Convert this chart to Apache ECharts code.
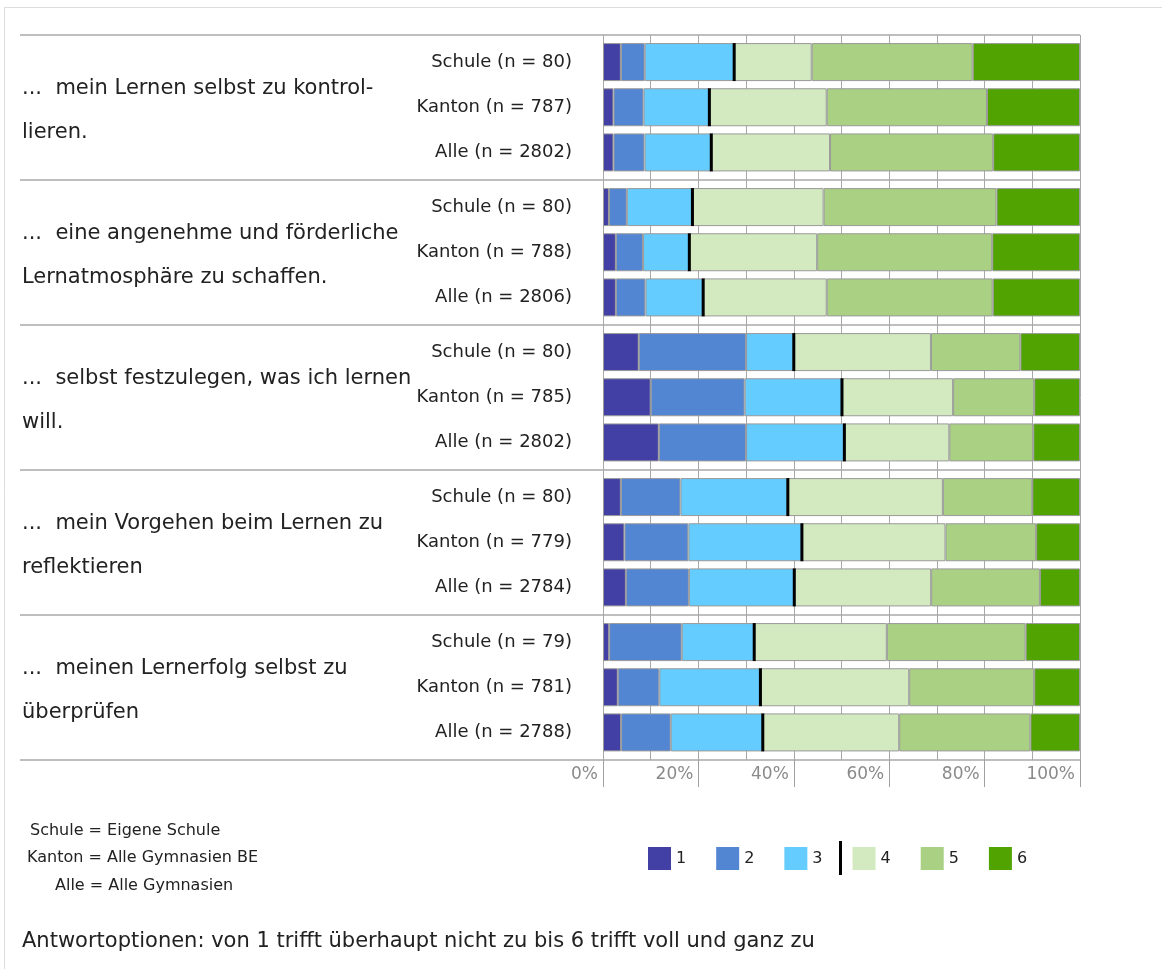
<!DOCTYPE html>
<html>
<head>
<meta charset="utf-8">
<script src="https://cdn.jsdelivr.net/npm/echarts@6/dist/echarts.min.js"></script>
<style>
  html, body { margin: 0; padding: 0; background: #fff; }
  #chart { width: 1162px; height: 969px; }
</style>
</head>
<body>
<div id="chart"></div>
<script>
// Statements, one per block of three bars
const groupLabels = [
  '...  mein Lernen selbst zu kontrol-\nlieren.',
  '...  eine angenehme und förderliche\nLernatmosphäre zu schaffen.',
  '...  selbst festzulegen, was ich lernen\nwill.',
  '...  mein Vorgehen beim Lernen zu\nreflektieren',
  '...  meinen Lernerfolg selbst zu\nüberprüfen'
];

// Bar labels, top to bottom
const rowLabels = [
  'Schule (n = 80)', 'Kanton (n = 787)', 'Alle (n = 2802)',
  'Schule (n = 80)', 'Kanton (n = 788)', 'Alle (n = 2806)',
  'Schule (n = 80)', 'Kanton (n = 785)', 'Alle (n = 2802)',
  'Schule (n = 80)', 'Kanton (n = 779)', 'Alle (n = 2784)',
  'Schule (n = 79)', 'Kanton (n = 781)', 'Alle (n = 2788)'
];

// Share of answers (%) per option, same row order as rowLabels
const answer1 = [3.75, 2.2, 2.2, 1.25, 2.7, 2.7, 7.5, 10.0, 11.7, 3.75, 4.5, 4.8, 1.3, 3.1, 3.8];
const answer2 = [5.0, 6.3, 6.5, 3.75, 5.7, 6.2, 22.5, 19.7, 18.3, 12.5, 13.4, 13.2, 15.2, 8.7, 10.4];
const answer3 = [18.75, 13.8, 14.0, 13.75, 9.7, 12.1, 10.0, 20.4, 20.6, 22.5, 23.8, 22.1, 15.2, 21.2, 19.3];
const answer4 = [16.25, 24.6, 24.9, 27.5, 26.8, 25.9, 28.75, 23.3, 22.0, 32.5, 30.1, 28.7, 27.8, 31.2, 28.6];
const answer5 = [33.75, 33.6, 34.2, 36.25, 36.7, 34.8, 18.75, 17.0, 17.6, 18.75, 19.0, 22.8, 29.1, 26.2, 27.5];
const answer6 = [22.5, 19.5, 18.2, 17.5, 18.4, 18.3, 12.5, 9.6, 9.8, 10.0, 9.2, 8.4, 11.4, 9.6, 10.4];

const optionNames = ['1', '2', '3', '4', '5', '6'];
const optionColors = ['#4340A5', '#5286D3', '#64CCFE', '#D3EAC1', '#A9D083', '#50A300'];

const answers = [answer1, answer2, answer3, answer4, answer5, answer6];

// Layout
const FONT = '"DejaVu Sans", "Noto Sans", sans-serif';
const PLOT_LEFT = 603, PLOT_RIGHT = 82;
const BLOCK_TOP = 35, BLOCK_H = 145, BLOCK_PAD = 4.5;
const BAR_W = 38;
const nGroups = groupLabels.length;
const PLOT_BOTTOM = 969 - (BLOCK_TOP + BLOCK_H * nGroups);

const grid = [{ left: PLOT_LEFT, right: PLOT_RIGHT, top: BLOCK_TOP, bottom: PLOT_BOTTOM }];
const xAxis = [{
  gridIndex: 0, type: 'value', min: 0, max: 100, interval: 20,
  axisLine: { show: false },
  axisTick: { show: true, length: 27, lineStyle: { color: '#a0a0a0', width: 1 } },
  minorTick: { show: false, splitNumber: 2 },
  splitLine: { show: true, lineStyle: { color: '#a8a8a8', width: 1 } },
  minorSplitLine: { show: true, lineStyle: { color: '#a8a8a8', width: 1 } },
  axisLabel: {
    formatter: '{value}%', align: 'right', margin: 6, padding: [0, 5, 0, 0],
    color: '#8a8a8a', fontSize: 17, fontFamily: FONT
  }
}];
const yAxis = [{ gridIndex: 0, type: 'value', show: false }];
const series = [];

for (let g = 0; g < nGroups; g++) {
  const gi = g + 1;
  const top = BLOCK_TOP + BLOCK_H * g + BLOCK_PAD;
  grid.push({ left: PLOT_LEFT, right: PLOT_RIGHT, top: top, height: BLOCK_H - 2 * BLOCK_PAD - 0.5 });
  xAxis.push({ gridIndex: gi, type: 'value', min: 0, max: 100, show: false });
  const rows = rowLabels.slice(g * 3, g * 3 + 3);
  yAxis.push({
    gridIndex: gi, type: 'category', inverse: true, data: rows,
    axisLine: { show: false }, axisTick: { show: false }, splitLine: { show: false },
    axisLabel: { margin: 31, color: '#222', fontSize: 18, fontFamily: FONT }
  });
  answers.forEach((vals, k) => {
    series.push({
      name: optionNames[k], type: 'bar', stack: 'g' + g,
      xAxisIndex: gi, yAxisIndex: gi, barWidth: BAR_W,
      itemStyle: { color: optionColors[k], borderColor: '#9a9a9a', borderWidth: 1 },
      emphasis: { disabled: true },
      data: vals.slice(g * 3, g * 3 + 3)
    });
  });
  // black marker between option 3 and option 4
  const split = rows.map((_, r) => {
    const i = g * 3 + r;
    return [answer1[i] + answer2[i] + answer3[i], r];
  });
  series.push({
    type: 'custom', xAxisIndex: gi, yAxisIndex: gi, z: 5, silent: true,
    encode: { x: 0, y: 1 },
    data: split,
    renderItem: function (params, api) {
      const p = api.coord([api.value(0), api.value(1)]);
      return {
        type: 'rect',
        shape: { x: p[0] - 1.5, y: p[1] - BAR_W / 2, width: 3, height: BAR_W },
        style: { fill: '#000' }
      };
    }
  });
}

// Text and rules outside the plot
const graphic = [
  { type: 'rect', silent: true, shape: { x: 4.5, y: 7.5, width: 1200, height: 1000 },
    style: { fill: 'none', stroke: '#dcdcdc', lineWidth: 1 } }
];
for (let g = 0; g <= nGroups; g++) {
  const y = BLOCK_TOP + BLOCK_H * g;
  graphic.push({ type: 'line', silent: true, shape: { x1: 20, y1: y, x2: 1162 - PLOT_RIGHT, y2: y },
    style: { stroke: '#a8a8a8', lineWidth: 1.5 } });
}
groupLabels.forEach((t, g) => {
  graphic.push({ type: 'text', silent: true, x: 22, y: BLOCK_TOP + BLOCK_H * g + BLOCK_H / 2 + 3,
    style: { text: t, fill: '#222', fontSize: 21, fontFamily: FONT, lineHeight: 44,
      textAlign: 'left', textVerticalAlign: 'middle' } });
});
const notes = [
  { x: 30, y: 831, text: 'Schule = Eigene Schule' },
  { x: 27, y: 858, text: 'Kanton = Alle Gymnasien BE' },
  { x: 55, y: 886, text: 'Alle = Alle Gymnasien' }
];
notes.forEach(n => graphic.push({ type: 'text', silent: true, x: n.x, y: n.y,
  style: { text: n.text, fill: '#222', fontSize: 16, fontFamily: FONT, textVerticalAlign: 'middle' } }));
graphic.push({ type: 'text', silent: true, x: 22, y: 942,
  style: { text: 'Antwortoptionen: von 1 trifft überhaupt nicht zu bis 6 trifft voll und ganz zu',
    fill: '#222', fontSize: 21, fontFamily: FONT, textVerticalAlign: 'middle' } });
// divider mark in the legend between 3 and 4
graphic.push({ type: 'rect', silent: true, shape: { x: 839, y: 841, width: 3, height: 34 },
  style: { fill: '#000' } });

const option = {
  animation: false,
  grid: grid,
  xAxis: xAxis,
  yAxis: yAxis,
  series: series,
  graphic: graphic,
  legend: {
    data: optionNames, left: 648, top: 847, padding: 0, itemWidth: 23, itemHeight: 23, itemGap: 30,
    icon: 'rect', selectedMode: false,
    itemStyle: { borderWidth: 0 },
    textStyle: { color: '#222', fontSize: 16, fontFamily: FONT }
  }
};

const chart = echarts.init(document.getElementById('chart'), null, { renderer: 'canvas' });
chart.setOption(option);
</script>
</body>
</html>
